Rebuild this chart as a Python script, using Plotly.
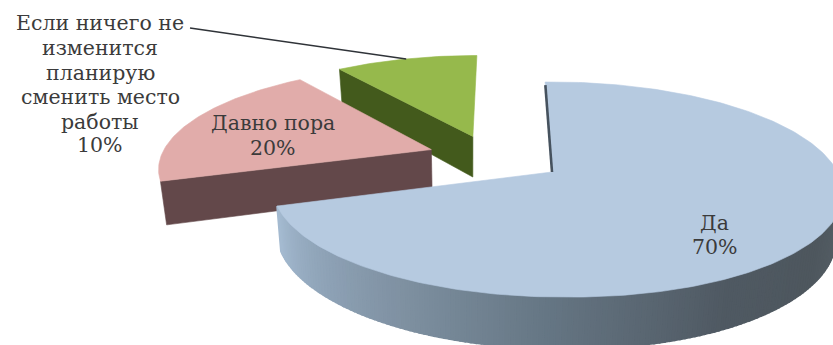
import numpy as np
import plotly.graph_objects as go

# Survey shares, clockwise from twelve o'clock
categories = ["Да", "Давно пора", "Если ничего не изменится планирую сменить место работы"]
shares = [70, 20, 10]

# How far each slice is pulled out of the disc, in disc radii (across, toward viewer)
pull_u = [0.0, -0.445, -0.292]
pull_v = [0.0, -0.222, -0.360]

top_colors = ["#B6CAE0", "#E1ACAA", "#96B94C"]
wall_colors = ["#5A6773", "#63484A", "#435A1C"]

# Side-wall shading of the large slice, swept along its rim (degrees, colour)
shade_angles = [90, 125, 150, 180, 210, 235, 252]
shade_rgb = [
    (92, 102, 108), (78, 87, 94), (80, 90, 99), (100, 116, 130),
    (128, 146, 163), (148, 169, 190), (166, 188, 210),
]

# Perspective of the tilted disc on the page
CX, CY = 552.0, 172.0
A, B, C = 277.0, 104.65, 8.0
K, J = 0.163, 0.03
DEPTH = 43.0
VANISH_X, SHRINK = 470.0, 0.98


def project(u, v, lower=False):
    u, v = np.asarray(u, float), np.asarray(v, float)
    d = 1 - K * v - J * np.maximum(u, 0)
    x = CX + (A * u + C * v) / d
    y = CY + B * v / d
    if lower:
        x = VANISH_X + (x - VANISH_X) * SHRINK
        y = y + DEPTH / d
    return x, y


def rim(start, stop, du=0.0, dv=0.0, step=1.0):
    n = max(2, int(abs(stop - start) / step) + 1)
    t = np.radians(np.linspace(start, stop, n))
    return du + np.sin(t), dv - np.cos(t)


def polygon(fig, x, y, color, width=0.6):
    fig.add_trace(go.Scatter(
        x=np.append(x, x[0]), y=np.append(y, y[0]), mode="lines", fill="toself",
        fillcolor=color, line=dict(color=color, width=width), hoverinfo="skip",
        showlegend=False,
    ))


edges = np.concatenate([[0], np.cumsum(shares)]) * 3.6
fig = go.Figure()

# Back to front: small slice, middle slice, large slice
for i in (2, 1, 0):
    start, stop = edges[i], edges[i + 1]
    du, dv = pull_u[i], pull_v[i]
    if i == 0:
        # Curved outer wall, built from short shaded strips
        for a in np.arange(92, stop, 1.0):
            b = min(a + 1.0, stop)
            ru, rv = rim(a, b, step=0.5)
            xt, yt = project(ru, rv)
            xb, yb = project(ru, rv, lower=True)
            c = [np.interp(a, shade_angles, [s[j] for s in shade_rgb]) for j in range(3)]
            polygon(fig, np.concatenate([xt, xb[::-1]]), np.concatenate([yt, yb[::-1]]),
                    "rgb(%d,%d,%d)" % tuple(c), width=2)
    else:
        # Flat cut wall running from the rim to the slice's tip
        ru, rv = rim(start, start, du, dv)
        wu = np.array([ru[0], du])
        wv = np.array([rv[0], dv])
        xt, yt = project(wu, wv)
        xb, yb = project(wu, wv, lower=True)
        polygon(fig, np.concatenate([xt, xb[::-1]]), np.concatenate([yt, yb[::-1]]),
                wall_colors[i])
    ru, rv = rim(start, stop, du, dv)
    xs, ys = project(np.append(ru, du), np.append(rv, dv))
    polygon(fig, xs, ys, top_colors[i])

# Narrow sliver of the large slice's inner wall, seen past its straight edge
xs, ys = project(np.array([0.0, 0.0]), np.array([-0.96, 0.0]))
fig.add_trace(go.Scatter(
    x=xs, y=ys, mode="lines", line=dict(color="#46525E", width=2.6),
    hoverinfo="skip", showlegend=False,
))

# Leader from the outside label to the rim of the small slice
mid = np.radians((edges[2] + edges[3]) / 2)
lx, ly = project(pull_u[2] + np.sin(mid), pull_v[2] - np.cos(mid))
fig.add_trace(go.Scatter(
    x=[190, float(lx)], y=[28, float(ly)], mode="lines",
    line=dict(color="#2F3338", width=1.5), hoverinfo="skip", showlegend=False,
))

FONT = dict(family="DejaVu Serif", size=20.5, color="#3B3B3B")


def label(text, x, y):
    fig.add_annotation(
        x=x, y=y, text=text, showarrow=False, xanchor="center", yanchor="middle",
        font=FONT, align="center",
    )


outside_lines = ["Если ничего не", "изменится", "планирую", "сменить место", "работы", f"{shares[2]}%"]
for line, yy in zip(outside_lines, [23, 48, 73, 97, 122, 145]):
    label(line, 100, yy)
label("Давно пора", 273, 123)
label(f"{shares[1]}%", 273, 148)
label("Да", 714, 223)
label(f"{shares[0]}%", 715, 247)

fig.update_xaxes(range=[0, 833], visible=False)
fig.update_yaxes(range=[345, 0], visible=False)
fig.update_layout(
    width=833, height=345, margin=dict(l=0, r=0, t=0, b=0),
    paper_bgcolor="white", plot_bgcolor="white", showlegend=False,
)
fig.write_html("out.html")
